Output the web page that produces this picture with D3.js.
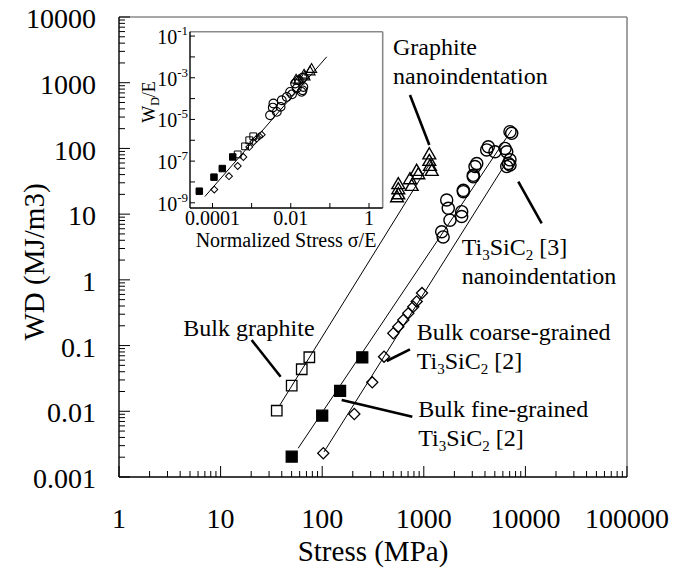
<!DOCTYPE html>
<html>
<head>
<meta charset="utf-8">
<script src="https://cdn.jsdelivr.net/npm/d3@7"></script>
<style>
  body { margin: 0; background: #fff; }
  svg { display: block; }
  svg text { font-family: "Liberation Serif", "Times New Roman", serif; }
</style>
</head>
<body>
<div id="chart"></div>
<script>
// ---- main panel data: [stress (MPa), WD (MJ/m3)] ----
const bulkGraphite = [[35.7, 0.0102], [50.1, 0.0245], [62.9, 0.0436], [74.7, 0.0664]];
const bulkFine = [[50.1, 0.00204], [100, 0.00857], [150, 0.0204], [248, 0.0664]];
const bulkCoarse = [[102.5, 0.0023], [207, 0.0091], [311, 0.0276], [406, 0.0678], [501, 0.154],
  [561, 0.194], [628, 0.245], [703, 0.31], [788, 0.39], [851, 0.47], [960, 0.63]];
const graphiteNano = [[545, 17.6], [561, 19.5], [561, 23.3], [561, 27.8], [731, 33], [760, 26.2],
  [851, 44.3], [883, 39.4], [1133, 79], [1133, 62.8], [1150, 52.7], [1197, 44.3]];
const tiNano = [[7050, 180], [7330, 170], [6550, 89], [4160, 95], [4315, 106], [5020, 89], [6300, 100],
  [7050, 67], [7050, 56], [6550, 53], [6800, 59], [3190, 53], [3320, 59], [3070, 37], [3070, 39],
  [2450, 23], [2450, 22], [1680, 16.4], [1740, 12.3], [1810, 8.1], [1500, 5.4], [1550, 4.5],
  [2360, 10.9], [2360, 9.2]];

// fitted lines (end points)
const graphiteFit = [[38.4, 0.0125], [1205, 67]];
const fineFit = [[58, 0.00274], [7330, 191]];
const coarseFit = [[104, 0.0024], [6300, 57]];

const stressTicks = [1, 10, 100, 1000, 10000, 100000];
const stressLabels = ["1", "10", "100", "1000", "10000", "100000"];
const wdTicks = [0.001, 0.01, 0.1, 1, 10, 100, 1000, 10000];
const wdLabels = ["0.001", "0.01", "0.1", "1", "10", "100", "1000", "10000"];

// ---- inset data: [sigma/E, WD/E] ----
const insetFine = [[4.6e-5, 3.6e-9], [1.09e-4, 1.7e-8], [1.78e-4, 4.4e-8], [3.29e-4, 1.58e-7]];
const insetCoarse = [[1.11e-4, 4.3e-9], [2.64e-4, 1.9e-8], [4.41e-4, 5.8e-8], [6.14e-4, 1.57e-7],
  [8.7e-4, 4.8e-7], [1.1e-3, 8.3e-7], [1.35e-3, 1.2e-6], [1.57e-3, 1.55e-6], [1.81e-3, 1.86e-6]];
const insetGraphite = [[4.4e-4, 2.1e-7], [6.8e-4, 5.1e-7], [8.7e-4, 1.0e-6], [1.1e-3, 1.55e-6]];
const insetCircles = [[2.96e-3, 1.58e-5], [3.47e-3, 3.7e-5], [3.6e-3, 5.8e-5], [4.4e-3, 2.3e-5],
  [5.5e-3, 4.0e-5], [5.9e-3, 8.3e-5], [7.9e-3, 1.2e-4], [9.6e-3, 2.1e-4], [1.29e-2, 5.3e-4],
  [1.6e-2, 7.6e-4], [2.0e-2, 1.0e-3], [2.1e-2, 3.6e-4], [2.0e-2, 2.5e-4], [1.9e-2, 2.1e-4],
  [1.42e-2, 3.1e-4], [1.08e-2, 1.6e-4]];
const insetTriangles = [[1.37e-2, 7.7e-4], [2.19e-2, 1.33e-3], [3.1e-2, 1.9e-3], [3.4e-2, 2.5e-3],
  [2.3e-2, 1.1e-3], [1.6e-2, 7.0e-4]];
const insetFit = [[6.4e-5, 2.0e-9], [0.083, 0.0101]];

const insetXTicks = [1e-4, 1e-3, 1e-2, 1e-1, 1];
const insetXLabels = [[1e-4, "0.0001"], [1e-2, "0.01"], [1, "1"]];
const insetYTicks = [1e-9, 1e-8, 1e-7, 1e-6, 1e-5, 1e-4, 1e-3, 1e-2, 1e-1];
const insetYLabels = [[1e-1, "-1"], [1e-3, "-3"], [1e-5, "-5"], [1e-7, "-7"], [1e-9, "-9"]];

// annotations, anchored in data units
const notes = [
  { x: 498, y: 2640, lines: [["Graphite"], ["nanoindentation"]], from: [731, 650], to: [1133, 113] },
  { x: 2360, y: 2.39, lines: [["Ti", "3", "SiC", "2", " [3]"], ["nanoindentation"]], from: [8510, 31.2], to: [14460, 7.26] },
  { x: 851, y: 0.1215, lines: [["Bulk coarse-grained"], ["Ti", "3", "SiC", "2", " [2]"]], from: [431, 0.0582], to: [731, 0.0877] },
  { x: 883, y: 0.00828, lines: [["Bulk fine-grained"], ["Ti", "3", "SiC", "2", " [2]"]], from: [155.6, 0.01486], to: [771, 0.00828] },
  { x: 4.29, y: 0.14, lines: [["Bulk graphite"]], from: [20.2, 0.1215], to: [39.0, 0.0336] }
];

const width = 680, height = 573;
const svg = d3.select("#chart").append("svg").attr("width", width).attr("height", height)
  .attr("font-family", "'Liberation Serif', 'Times New Roman', serif");

const x = d3.scaleLog().domain([1, 100000]).range([119, 627]);
const y = d3.scaleLog().domain([0.001, 10000]).range([477, 17]);

function minorTicks(lo, hi) {
  const out = [];
  for (let e = lo; e < hi; e++) for (let m = 2; m <= 9; m++) out.push(m * Math.pow(10, e));
  return out;
}

function drawFrame(g, xs, ys, majorX, minorX, majorY, minorY, majLen, minLen) {
  const [x0, x1] = xs.range(), [y0, y1] = ys.range();
  g.append("line").attr("x1", x0).attr("x2", x1).attr("y1", y1).attr("y2", y1)
    .attr("stroke", "#8a8a8a").attr("stroke-width", 1.6);
  g.append("line").attr("x1", x1).attr("x2", x1).attr("y1", y1).attr("y2", y0)
    .attr("stroke", "#8a8a8a").attr("stroke-width", 1.6);
  g.append("line").attr("x1", x0).attr("x2", x1).attr("y1", y0).attr("y2", y0)
    .attr("stroke", "#000").attr("stroke-width", 1.4);
  g.append("line").attr("x1", x0).attr("x2", x0).attr("y1", y1).attr("y2", y0)
    .attr("stroke", "#000").attr("stroke-width", 1.4);
  g.selectAll(null).data(majorX.map(v => [v, majLen]).concat(minorX.map(v => [v, minLen])))
    .join("line")
    .attr("x1", d => xs(d[0])).attr("x2", d => xs(d[0]))
    .attr("y1", y0).attr("y2", d => y0 - d[1])
    .attr("stroke", "#000").attr("stroke-width", 1);
  g.selectAll(null).data(majorY.map(v => [v, majLen]).concat(minorY.map(v => [v, minLen])))
    .join("line")
    .attr("y1", d => ys(d[0])).attr("y2", d => ys(d[0]))
    .attr("x1", x0).attr("x2", d => x0 + d[1])
    .attr("stroke", "#000").attr("stroke-width", 1);
}

function marker(type, s) {
  if (type === "circle") return d3.symbol(d3.symbolCircle, s)();
  if (type === "triangle") return d3.symbol(d3.symbolTriangle, s * 0.75)();
  return d3.symbol(d3.symbolSquare, s)();
}

function drawPoints(g, data, xs, ys, type, s, filled, sw) {
  g.selectAll(null).data(data).join("path")
    .attr("d", marker(type, s))
    .attr("transform", d => `translate(${xs(d[0])},${ys(d[1])})` + (type === "diamond" ? " rotate(45)" : ""))
    .attr("fill", filled ? "#000" : "none")
    .attr("stroke", "#000")
    .attr("stroke-width", sw);
}

function drawFit(g, pts, xs, ys) {
  g.append("path").datum(pts)
    .attr("d", d3.line().x(d => xs(d[0])).y(d => ys(d[1])))
    .attr("fill", "none").attr("stroke", "#000").attr("stroke-width", 1);
}

// ---- main panel ----
const main = svg.append("g");
drawFrame(main, x, y, stressTicks, minorTicks(0, 5), wdTicks, minorTicks(-3, 4), 11, 6);

main.selectAll(null).data(stressTicks).join("text")
  .attr("x", d => x(d)).attr("y", 528)
  .attr("text-anchor", "middle").attr("font-size", 28)
  .text((d, i) => stressLabels[i]);
main.selectAll(null).data(wdTicks).join("text")
  .attr("x", 96).attr("y", d => y(d)).attr("dy", "0.4em")
  .attr("text-anchor", "end").attr("font-size", 28)
  .text((d, i) => wdLabels[i]);

main.append("text").attr("x", (x.range()[0] + x.range()[1]) / 2).attr("y", 561)
  .attr("text-anchor", "middle").attr("font-size", 29).text("Stress (MPa)");
main.append("text").attr("transform", "translate(44,262) rotate(-90)")
  .attr("text-anchor", "middle").attr("font-size", 29).text("WD (MJ/m3)");

[graphiteFit, fineFit, coarseFit].forEach(l => drawFit(main, l, x, y));

drawPoints(main, bulkGraphite, x, y, "square", 110, false, 1.3);
drawPoints(main, bulkFine, x, y, "square", 120, true, 1.3);
drawPoints(main, bulkCoarse, x, y, "diamond", 62, false, 1.3);
drawPoints(main, graphiteNano, x, y, "triangle", 95, false, 1.4);
drawPoints(main, tiNano, x, y, "circle", 115, false, 1.4);

// annotations
notes.forEach(n => {
  main.append("line")
    .attr("x1", x(n.from[0])).attr("y1", y(n.from[1]))
    .attr("x2", x(n.to[0])).attr("y2", y(n.to[1]))
    .attr("stroke", "#000").attr("stroke-width", 2.6);
  n.lines.forEach((parts, li) => {
    const t = main.append("text").attr("x", x(n.x)).attr("y", y(n.y) + li * 29)
      .attr("font-size", 24);
    parts.forEach((p, pi) => {
      const sub = pi % 2 === 1;
      t.append("tspan").text(p)
        .attr("font-size", sub ? 15 : 24)
        .attr("dy", pi === 0 ? 0 : (sub ? 5 : -5));
    });
  });
});

// ---- inset ----
const ix = d3.scaleLog().domain([Math.pow(10, -4.575), Math.pow(10, 0.35)]).range([190, 382.7]);
const iy = d3.scaleLog().domain([Math.pow(10, -9.25), Math.pow(10, -0.79)]).range([208, 31.7]);
const inset = svg.append("g");
inset.append("rect").attr("x", 190).attr("y", 31.7).attr("width", 192.7).attr("height", 176.3)
  .attr("fill", "#fff");
drawFrame(inset, ix, iy, insetXTicks, [], insetYTicks, [], 5, 3);

inset.selectAll(null).data(insetXLabels).join("text")
  .attr("x", d => ix(d[0])).attr("y", 225)
  .attr("text-anchor", "middle").attr("font-size", 20)
  .text(d => d[1]);
insetYLabels.forEach(d => {
  const t = inset.append("text").attr("x", 188).attr("y", iy(d[0]) + 8)
    .attr("text-anchor", "end").attr("font-size", 20);
  t.append("tspan").text("10");
  t.append("tspan").text(d[1]).attr("font-size", 13).attr("dy", -9);
});
inset.append("text").attr("x", 286).attr("y", 247).attr("text-anchor", "middle")
  .attr("font-size", 20).text("Normalized Stress σ/E");
const wt = inset.append("text").attr("transform", "translate(155,102) rotate(-90)")
  .attr("text-anchor", "middle").attr("font-size", 18);
wt.append("tspan").text("W");
wt.append("tspan").text("D").attr("font-size", 12).attr("dy", 4);
wt.append("tspan").text("/E").attr("dy", -4);

drawFit(inset, insetFit, ix, iy);
drawPoints(inset, insetFine, ix, iy, "square", 42, true, 1);
drawPoints(inset, insetCoarse, ix, iy, "diamond", 24, false, 1);
drawPoints(inset, insetGraphite, ix, iy, "square", 46, false, 1);
drawPoints(inset, insetCircles, ix, iy, "circle", 60, false, 1.1);
drawPoints(inset, insetTriangles, ix, iy, "triangle", 60, false, 1.1);
</script>
</body>
</html>
